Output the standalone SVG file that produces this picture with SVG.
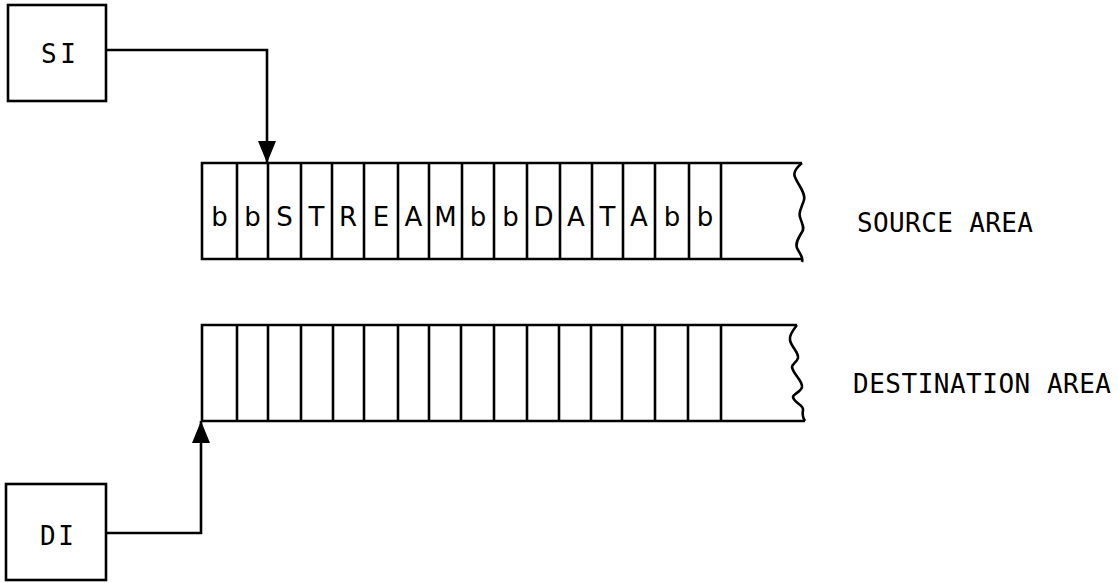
<svg xmlns="http://www.w3.org/2000/svg" width="1118" height="583" viewBox="0 0 1118 583">
  <style>
    .box { fill: #fff; stroke: #000; stroke-width: 2.6; }
    .ln { fill: none; stroke: #000; stroke-width: 2.6; stroke-linejoin: miter; }
    .div { stroke: #000; stroke-width: 2.6; }
    .lbl { font-family: "DejaVu Sans Mono", "Liberation Mono", monospace; font-size: 26px; fill: #000; }
    .cell { font-family: "DejaVu Sans", "Liberation Sans", sans-serif; font-size: 26px; fill: #000; text-anchor: middle; }
  </style>
  <defs>
    <marker id="arrow" viewBox="0 0 22 18" refX="22" refY="9" markerWidth="22" markerHeight="18" markerUnits="userSpaceOnUse" orient="auto">
      <path d="M0,0 L22,9 L0,18 Z" fill="#000"/>
    </marker>
  </defs>
  <rect width="1118" height="583" fill="#fff"/>

  <g id="si">
    <rect class="box" x="8" y="5" width="98" height="96"/>
    <text class="lbl" x="41" y="63" letter-spacing="3.5">SI</text>
  </g>

  <g id="di">
    <rect class="box" x="6" y="484" width="100" height="96"/>
    <text class="lbl" x="40" y="545" letter-spacing="2.5">DI</text>
  </g>

  <g id="source-area">
    <path class="ln" d="M802,163 L202,163 L202,259 L802,259"/>
    <path class="ln" d="M802,163 C796,168 793,173 795,177 C798,185 806,193 804,200 C802,207 798,212 800,217 C802,224 805,228 802,232 C799,237 795,243 797,248 C799,253 804,257 802,262"/>
    <g class="div">
      <line x1="237" y1="163" x2="237" y2="259"/>
      <line x1="268" y1="163" x2="268" y2="259"/>
      <line x1="301" y1="163" x2="301" y2="259"/>
      <line x1="332" y1="163" x2="332" y2="259"/>
      <line x1="364" y1="163" x2="364" y2="259"/>
      <line x1="398" y1="163" x2="398" y2="259"/>
      <line x1="429" y1="163" x2="429" y2="259"/>
      <line x1="462" y1="163" x2="462" y2="259"/>
      <line x1="494" y1="163" x2="494" y2="259"/>
      <line x1="527" y1="163" x2="527" y2="259"/>
      <line x1="560" y1="163" x2="560" y2="259"/>
      <line x1="592" y1="163" x2="592" y2="259"/>
      <line x1="623" y1="163" x2="623" y2="259"/>
      <line x1="655" y1="163" x2="655" y2="259"/>
      <line x1="689" y1="163" x2="689" y2="259"/>
      <line x1="721" y1="163" x2="721" y2="259"/>
    </g>
    <text class="cell" x="219.5" y="226">b</text>
    <text class="cell" x="252.5" y="226">b</text>
    <text class="cell" x="284.5" y="226">S</text>
    <text class="cell" x="316.5" y="226">T</text>
    <text class="cell" x="348" y="226">R</text>
    <text class="cell" x="381" y="226">E</text>
    <text class="cell" x="413.5" y="226">A</text>
    <text class="cell" x="445.5" y="226">M</text>
    <text class="cell" x="478" y="226">b</text>
    <text class="cell" x="510.5" y="226">b</text>
    <text class="cell" x="543.5" y="226">D</text>
    <text class="cell" x="576" y="226">A</text>
    <text class="cell" x="607.5" y="226">T</text>
    <text class="cell" x="639" y="226">A</text>
    <text class="cell" x="672" y="226">b</text>
    <text class="cell" x="705" y="226">b</text>
    <text class="lbl" x="857" y="232" textLength="176">SOURCE AREA</text>
  </g>

  <g id="destination-area">
    <path class="ln" d="M797,325 L202,325 L202,421 L805,421"/>
    <path class="ln" d="M797,325 C793,330 789,336 790,340 C791,347 799,352 798,358 C797,362 792,364 792,367 C793,374 803,381 802,387 C801,392 793,394 793,397 C794,403 804,405 803,410 C802,415 803,418 805,421"/>
    <g class="div">
      <line x1="237" y1="325" x2="237" y2="421"/>
      <line x1="268" y1="325" x2="268" y2="421"/>
      <line x1="301" y1="325" x2="301" y2="421"/>
      <line x1="333" y1="325" x2="333" y2="421"/>
      <line x1="364" y1="325" x2="364" y2="421"/>
      <line x1="398" y1="325" x2="398" y2="421"/>
      <line x1="429" y1="325" x2="429" y2="421"/>
      <line x1="461" y1="325" x2="461" y2="421"/>
      <line x1="494" y1="325" x2="494" y2="421"/>
      <line x1="527" y1="325" x2="527" y2="421"/>
      <line x1="559" y1="325" x2="559" y2="421"/>
      <line x1="591" y1="325" x2="591" y2="421"/>
      <line x1="622" y1="325" x2="622" y2="421"/>
      <line x1="655" y1="325" x2="655" y2="421"/>
      <line x1="688" y1="325" x2="688" y2="421"/>
      <line x1="721" y1="325" x2="721" y2="421"/>
    </g>
    <text class="lbl" x="853" y="393" textLength="258">DESTINATION AREA</text>
  </g>

  <g id="connectors">
    <path class="ln" d="M106,50 L267,50 L267,163" marker-end="url(#arrow)"/>
    <path class="ln" d="M106,533 L201,533 L201,421" marker-end="url(#arrow)"/>
  </g>
</svg>
